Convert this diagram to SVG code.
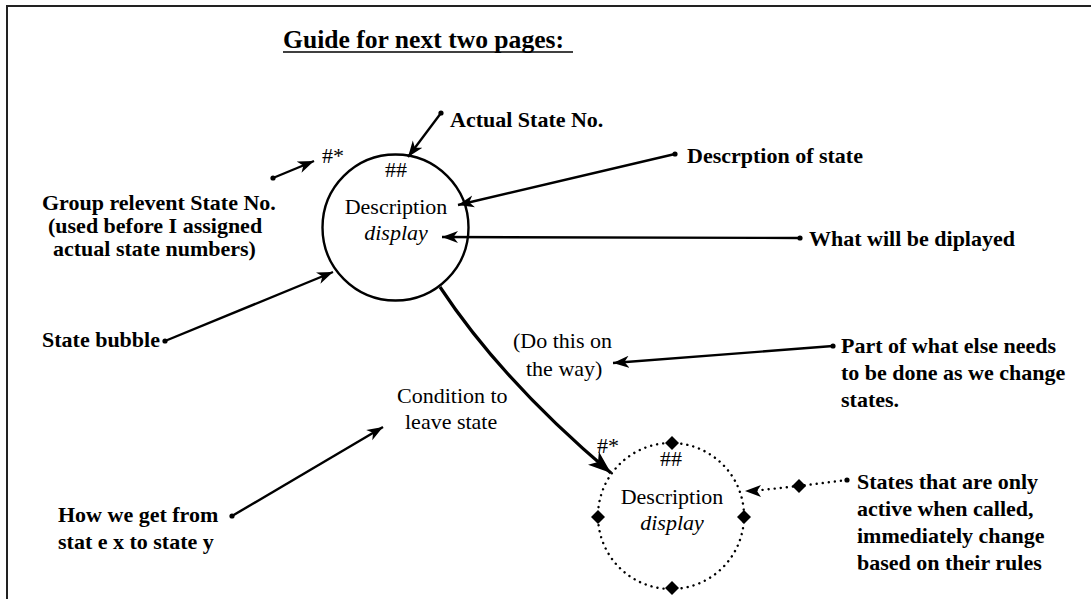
<svg xmlns="http://www.w3.org/2000/svg" width="1091" height="599" viewBox="0 0 1091 599">
  <style>
    text { font-family: "Liberation Serif", "Times New Roman", serif; fill: #000; }
    .t { font-weight: bold; font-size: 25.6px; }
    .b { font-weight: bold; font-size: 22px; }
    .r { font-size: 22px; }
    .i { font-size: 22px; font-style: italic; }
    .c { text-anchor: middle; }
    .lead { stroke: #000; stroke-width: 2.4; fill: none; marker-start: url(#dot); marker-end: url(#head); }
    .dotted { stroke: #000; stroke-width: 2.4; fill: none; stroke-dasharray: 0.1 6; stroke-linecap: round; }
  </style>
  <defs>
    <marker id="head" markerUnits="userSpaceOnUse" markerWidth="17" markerHeight="13" refX="16" refY="6.5" orient="auto">
      <path d="M0,0.5 L16,6.5 L0,12.5 L4.5,6.5 z" fill="#000"/>
    </marker>
    <marker id="bighead" markerUnits="userSpaceOnUse" markerWidth="24" markerHeight="18" refX="23" refY="9" orient="auto">
      <path d="M0,0.5 L23,9 L0,17.5 L6,9 z" fill="#000"/>
    </marker>
    <marker id="dot" markerUnits="userSpaceOnUse" markerWidth="8" markerHeight="8" refX="4" refY="4">
      <circle cx="4" cy="4" r="2.6" fill="#000"/>
    </marker>
    <polygon id="diamond" points="0,-7 7,0 0,7 -7,0" fill="#000"/>
  </defs>

  <!-- page frame -->
  <path d="M7,599 V6 H1091" fill="none" stroke="#222" stroke-width="2"/>

  <!-- title -->
  <g id="title">
    <text class="t" x="283" y="48">Guide for next two pages:</text>
    <line x1="283" y1="52" x2="573" y2="52" stroke="#000" stroke-width="1.6"/>
  </g>

  <!-- regular state bubble -->
  <g id="state-bubble">
    <circle cx="395.5" cy="227.5" r="73" fill="none" stroke="#000" stroke-width="2.4"/>
    <text class="r" x="322" y="163">#*</text>
    <text class="r c" x="396" y="177">##</text>
    <text class="r c" x="396" y="214">Description</text>
    <text class="i c" x="396" y="240">display</text>
  </g>

  <!-- transient state bubble -->
  <g id="called-state">
    <circle cx="671" cy="516" r="73" class="dotted"/>
    <use href="#diamond" x="672" y="443"/>
    <use href="#diamond" x="672" y="588"/>
    <use href="#diamond" x="598" y="517"/>
    <use href="#diamond" x="744" y="517"/>
    <text class="r" x="597" y="453">#*</text>
    <text class="r c" x="671" y="466">##</text>
    <text class="r c" x="672" y="504">Description</text>
    <text class="i c" x="672" y="530">display</text>
  </g>

  <!-- transition labels -->
  <g id="on-the-way">
    <text class="r" x="513" y="348">(Do this on</text>
    <text class="r" x="526" y="376">the way)</text>
  </g>
  <g id="condition">
    <text class="r" x="397" y="403">Condition to</text>
    <text class="r" x="405" y="429">leave state</text>
  </g>

  <!-- legend notes -->
  <g id="note-actual">
    <text class="b" x="450" y="127">Actual State No.</text>
  </g>
  <g id="note-group">
    <text class="b" x="42" y="210">Group relevent State No.</text>
    <text class="b" x="48" y="233">(used before I assigned</text>
    <text class="b" x="53" y="256">actual state numbers)</text>
  </g>
  <g id="note-description">
    <text class="b" x="687" y="163">Descrption of state</text>
  </g>
  <g id="note-display">
    <text class="b" x="809" y="246">What will be diplayed</text>
  </g>
  <g id="note-bubble">
    <text class="b" x="42" y="347">State bubble</text>
  </g>
  <g id="note-todo">
    <text class="b" x="841" y="353">Part of what else needs</text>
    <text class="b" x="841" y="380">to be done as we change</text>
    <text class="b" x="841" y="407">states.</text>
  </g>
  <g id="note-transition">
    <text class="b" x="58" y="522">How we get from</text>
    <text class="b" x="58" y="549">stat e x to state y</text>
  </g>
  <g id="note-called">
    <text class="b" x="857" y="489">States that are only</text>
    <text class="b" x="857" y="516">active when called,</text>
    <text class="b" x="857" y="543">immediately change</text>
    <text class="b" x="857" y="570">based on their rules</text>
  </g>

  <!-- connectors -->
  <g id="connectors">
    <line class="lead" x1="441" y1="113" x2="408" y2="157"/>
    <line class="lead" x1="273" y1="178" x2="314" y2="161"/>
    <line class="lead" x1="675" y1="154" x2="458" y2="205"/>
    <line class="lead" x1="800" y1="238" x2="442" y2="237"/>
    <line class="lead" x1="165" y1="341" x2="333" y2="272"/>
    <line class="lead" x1="833" y1="346" x2="613" y2="363"/>
    <line class="lead" x1="232" y1="516" x2="383" y2="427"/>
    <!-- state change -->
    <path d="M440,287 Q502,381 611,473" fill="none" stroke="#000" stroke-width="3.2" marker-end="url(#bighead)"/>
    <!-- dotted call pointer -->
    <line class="dotted" x1="847" y1="480" x2="799" y2="486"/>
    <line class="dotted" x1="799" y1="486" x2="752" y2="491"/>
    <circle cx="847" cy="480" r="2.6" fill="#000"/>
    <use href="#diamond" x="799" y="486"/>
    <path d="M745,491 L761,485 L757,491 L761,497 z" fill="#000"/>
  </g>
</svg>
